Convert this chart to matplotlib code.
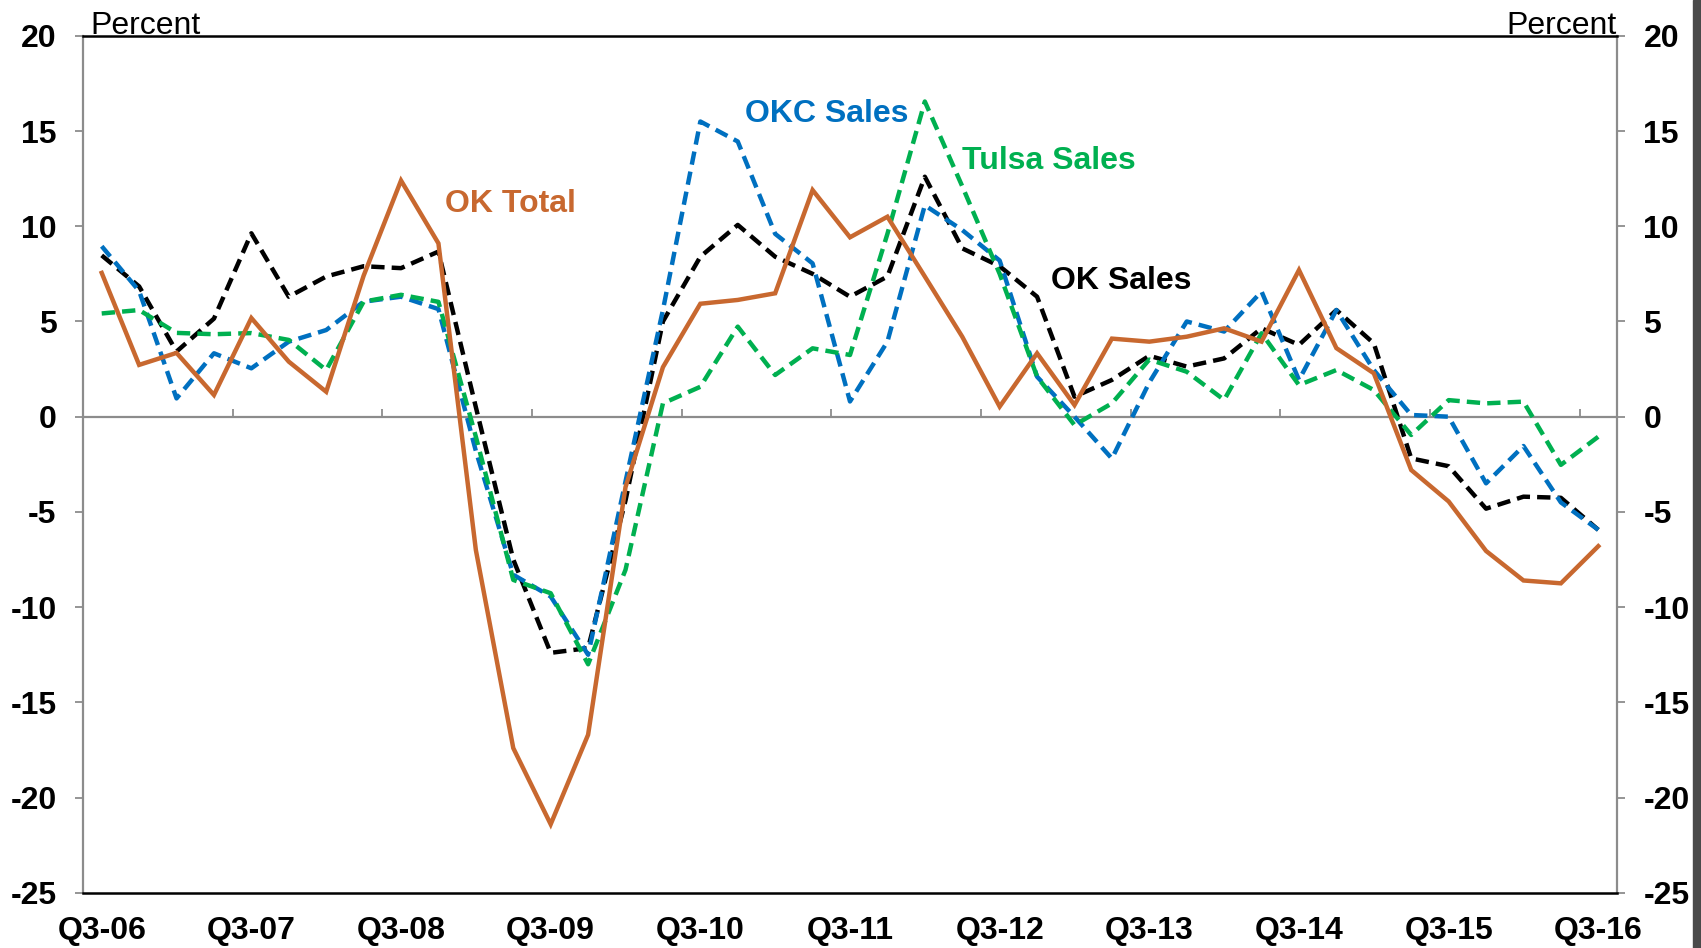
import matplotlib
matplotlib.use("Agg")
import matplotlib.pyplot as plt
from matplotlib.patches import Rectangle

plt.rcParams['font.family'] = ['Liberation Sans', 'DejaVu Sans']
plt.rcParams['axes.unicode_minus'] = False

# quarterly data, Q3-06 .. Q3-16 (41 quarters)
years = ['06', '07', '08', '09', '10', '11', '12', '13', '14', '15', '16']
tick_labels = ['Q3-' + y for y in years]

ok_total = [7.55, 2.72, 3.35, 1.14, 5.18, 2.89, 1.31, 7.4, 12.4, 9.1,
            -7.0, -17.4, -21.4, -16.7, -3.7, 2.6, 5.93, 6.13, 6.48, 11.9,
            9.42, 10.5, 7.36, 4.2, 0.53, 3.33, 0.61, 4.1, 3.94, 4.2,
            4.64, 3.94, 7.7, 3.6, 2.28, -2.8, -4.45, -7.05, -8.6, -8.75,
            -6.8]
ok_sales = [8.47, 6.84, 3.42, 5.15, 9.63, 6.3, 7.36, 7.9, 7.8, 8.67,
            0.5, -7.5, -12.4, -12.15, -4.4, 5.0, 8.4, 10.07, 8.4, 7.5,
            6.3, 7.36, 12.6, 8.84, 7.9, 6.3, 1.05, 1.93, 3.2, 2.63,
            3.06, 4.64, 3.77, 5.6, 3.85, -2.19, -2.6, -4.83, -4.2, -4.26,
            -5.94]
okc_sales = [8.95, 6.6, 0.96, 3.33, 2.54, 3.94, 4.55, 6.04, 6.3, 5.65,
             -1.8, -8.3, -9.44, -12.5, -3.4, 5.6, 15.5, 14.45, 9.6, 8.05,
             0.8, 3.94, 11.1, 9.8, 8.2, 2.1, 0.0, -2.2, 1.8, 5.0,
             4.47, 6.57, 1.93, 5.6, 2.45, 0.09, 0.0, -3.5, -1.54, -4.5,
             -5.94]
tulsa_sales = [5.42, 5.6, 4.4, 4.33, 4.39, 4.03, 2.45, 6.04, 6.4, 6.03,
               -1.05, -8.57, -9.27, -13.0, -8.04, 0.7, 1.57, 4.73, 2.19, 3.59,
               3.24, 9.6, 16.55, 12.1, 7.5, 2.1, -0.44, 0.7, 3.0, 2.36,
               0.88, 4.38, 1.66, 2.45, 1.4, -0.96, 0.87, 0.7, 0.79, -2.53,
               -1.05]

orange = '#C8682F'
blue = '#0070C0'
green = '#00B050'
grey = '#8c8c8c'

x = list(range(len(ok_total)))

fig = plt.figure(figsize=(17.01, 9.48), dpi=100)
ax = fig.add_axes([83/1701, 1 - 892.8/948, (1617 - 83)/1701, (892.8 - 35.8)/948])

# zero line
ax.axhline(0, color=grey, lw=1.6, zorder=1)

lw = 3.2
dash = (3.0, 1.6)
ax.plot(x, ok_sales, color='black', lw=lw, dashes=dash, zorder=3)
ax.plot(x, okc_sales, color=blue, lw=lw, dashes=dash, zorder=3)
ax.plot(x, tulsa_sales, color=green, lw=lw, dashes=dash, zorder=3)
ax.plot(x, ok_total, color=orange, lw=lw, solid_joinstyle='miter', zorder=4)

ax.set_xlim(-0.5, len(x) - 0.5)
ax.set_ylim(-25, 20)

# y axis both sides
ax.set_yticks(range(-25, 21, 5))
ax.tick_params(axis='y', which='major', left=True, right=True, labelleft=True,
               labelright=True, direction='out', length=6, width=1.3,
               color=grey, pad=13, labelsize=23)
for lab in ax.get_yticklabels():
    lab.set_fontweight('bold')

# x labels every 4 quarters at the bottom
ax.set_xticks(range(0, len(x), 4))
ax.set_xticklabels(tick_labels, fontsize=23, fontweight='bold')
ax.tick_params(axis='x', length=0, pad=17)

# tick marks on the zero line between year groups
secax = ax.secondary_xaxis(25 / 45)
secax.set_xticks([3.5 + 4 * k for k in range(10)])
secax.set_xticklabels([])
secax.tick_params(axis='x', direction='out', length=6, width=1.3, color=grey)
for s in secax.spines.values():
    s.set_visible(False)

for s in ['left', 'right']:
    ax.spines[s].set_color(grey)
    ax.spines[s].set_linewidth(1.6)
for s in ['top', 'bottom']:
    ax.spines[s].set_color('black')
    ax.spines[s].set_linewidth(1.8)

ax.annotate('Percent', xy=(0.005, 1.002), xycoords='axes fraction',
            ha='left', va='baseline', fontsize=23)
ax.annotate('Percent', xy=(0.9995, 1.002), xycoords='axes fraction',
            ha='right', va='baseline', fontsize=23)

# series labels
ax.text(9.17, 11.16, 'OK Total', color=orange, fontsize=23, fontweight='bold',
        ha='left', va='center')
ax.text(17.19, 15.87, 'OKC Sales', color=blue, fontsize=23, fontweight='bold',
        ha='left', va='center')
ax.text(23.0, 13.44, 'Tulsa Sales', color=green, fontsize=23, fontweight='bold',
        ha='left', va='center')
ax.text(25.38, 7.12, 'OK Sales', color='black', fontsize=23, fontweight='bold',
        ha='left', va='center')

# dark strip at right edge of the original image
fig.patches.append(Rectangle((1693/1701, 0), 8/1701, 1, transform=fig.transFigure,
                             color='#4a4a4a', zorder=0))

fig.savefig('out.png', dpi=100)
